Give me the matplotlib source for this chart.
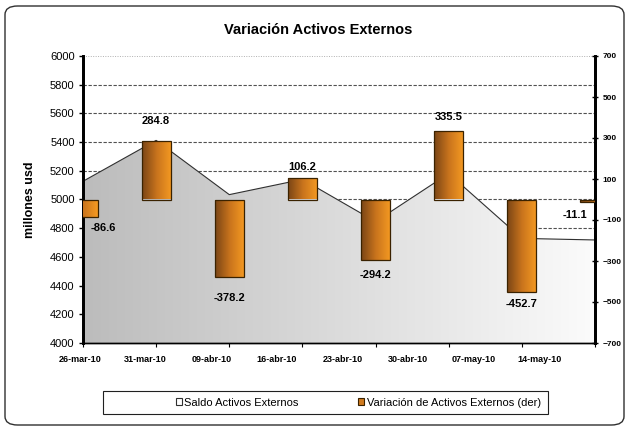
import numpy as np
import matplotlib.pyplot as plt
from matplotlib.colors import LinearSegmentedColormap
from matplotlib.patches import FancyBboxPatch, Rectangle

fechas = ['26-mar-10', '31-mar-10', '09-abr-10', '16-abr-10',
          '23-abr-10', '30-abr-10', '07-may-10', '14-may-10']
saldo = [5127, 5412, 5034, 5140, 4846, 5181, 4729, 4718]
variacion = [-86.6, 284.8, -378.2, 106.2, -294.2, 335.5, -452.7, -11.1]

# gap (pixels) between each bar end and its label, as in the original
label_gap = [6, 15, 16, 6, 10, 9, 7, 8]

plt.rcParams['font.family'] = ['Liberation Sans', 'DejaVu Sans']

fig = plt.figure(figsize=(6.3, 4.3), dpi=100)
ax = fig.add_axes([83 / 630, 1 - 343 / 430, 512 / 630, 287 / 430])
ax2 = ax.twinx()

x = np.arange(len(fechas))

# border of the whole chart
fig.patches.append(FancyBboxPatch((5 / 630, 5 / 430), 619 / 630, 419 / 430,
                                  boxstyle='round,pad=0,rounding_size=0.02',
                                  transform=fig.transFigure, fill=False,
                                  edgecolor='#303030', linewidth=1.0))

# grid lines behind the area
for v in range(4200, 6000, 200):
    ax.axhline(v, color='#505050', linestyle=(0, (3, 1.5)), linewidth=0.8, zorder=0)
ax.axhline(6000, color='#b0b0b0', linestyle=(0, (1, 1.5)), linewidth=0.7, zorder=0)

# area with a grey-to-white gradient
area = ax.fill_between(x, 4000, saldo, facecolor='none', edgecolor='none', zorder=1)
grey = LinearSegmentedColormap.from_list('grey', ['#bcbcbc', '#fbfbfb'])
im = ax.imshow(np.linspace(0, 1, 256).reshape(1, -1), cmap=grey, aspect='auto',
               extent=[0, 7, 4000, 6000], zorder=1)
im.set_clip_path(area.get_paths()[0], transform=ax.transData)
ax.plot(x, saldo, color='#303030', linewidth=0.8, zorder=2)

ax.set_xlim(0, 7)
ax.set_ylim(4000, 6000)
ax.set_yticks(range(4000, 6001, 200))
ax.tick_params(axis='y', labelsize=8, length=3, width=1, direction='out', pad=3)
ax.set_ylabel('millones usd', fontsize=9, fontweight='bold', labelpad=10)

ax.set_xticks(x)
ax.set_xticklabels([''] * len(x))
ax.tick_params(axis='x', which='major', length=3, direction='out')
# category labels sit on their own, slightly narrower spacing
for i, f in enumerate(fechas):
    ax.annotate(f, (-0.04 + i * 0.897, 0), xycoords=('data', 'axes fraction'),
                xytext=(0, -16), textcoords='offset pixels', ha='center', va='center',
                fontsize=6.5, fontweight='bold', annotation_clip=False)

# bars with brown-to-orange gradient on the right axis
orange = LinearSegmentedColormap.from_list('orange', ['#7a4516', '#c9741d', '#f59a22'])
bars = ax2.bar(x, variacion, width=0.4, facecolor='none', edgecolor='#3a2200',
               linewidth=0.9, zorder=4)
for b in bars:
    bx, by = b.get_x(), b.get_y()
    bw, bh = b.get_width(), b.get_height()
    g = ax2.imshow(np.linspace(0, 1, 64).reshape(1, -1), cmap=orange, aspect='auto',
                   extent=[bx, bx + bw, by, by + bh], zorder=3)
    g.set_clip_path(b.get_path(), b.get_transform())

for i, v in enumerate(variacion):
    gap = label_gap[i]
    off = (0, gap) if v > 0 else (0, -gap)
    va = 'bottom' if v > 0 else 'top'
    ha = 'center'
    if i == 0:
        off, ha = (8, -gap), 'left'
    elif i == len(variacion) - 1:
        off, ha = (-8, -gap), 'right'
    ax2.annotate(f'{v:.1f}', (x[i], v), xytext=off, textcoords='offset pixels',
                 ha=ha, va=va, fontsize=8, fontweight='bold', zorder=5)

ax2.set_xlim(0, 7)
ax2.set_ylim(-700, 700)
ax2.set_yticks(range(-700, 701, 200))
ax2.tick_params(axis='y', labelsize=6, length=5, width=1, direction='inout', pad=3)
for t in ax2.get_yticklabels():
    t.set_fontweight('bold')

for a in (ax, ax2):
    a.spines['top'].set_visible(False)
    a.spines['left'].set_linewidth(2)
    a.spines['right'].set_linewidth(2)
    a.spines['bottom'].set_linewidth(1)
    a.set_facecolor('none')

fig.text(0.505, 0.93, 'Variación Activos Externos', ha='center', va='center',
         fontsize=10.5, fontweight='bold')

# legend
fig.patches.append(Rectangle((103 / 630, 1 - 414 / 430), 445 / 630, 23 / 430,
                             transform=fig.transFigure, fill=False,
                             edgecolor='#202020', linewidth=0.8))
h1 = Rectangle((0, 0), 1, 1, facecolor='white', edgecolor='#303030', linewidth=0.8)
h2 = Rectangle((0, 0), 1, 1, facecolor='#d07a1e', edgecolor='#3a2200', linewidth=0.8)
fig.legend([h1, h2], ['Saldo Activos Externos', 'Variación de Activos Externos (der)'],
           loc='center left', bbox_to_anchor=(170 / 630, 1 - 402.5 / 430), ncol=2,
           frameon=False, fontsize=8, handlelength=0.6, handleheight=0.6,
           handletextpad=0.2, columnspacing=5.3, borderpad=0)

fig.savefig('out.png', dpi=100)
